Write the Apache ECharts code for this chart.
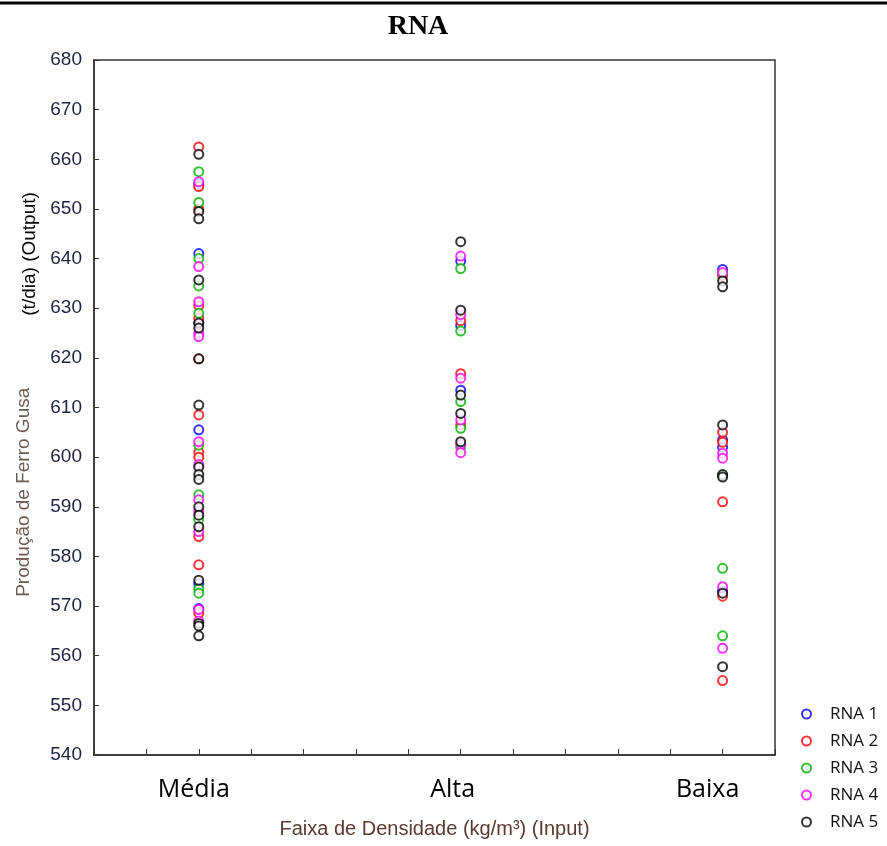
<!DOCTYPE html>
<html>
<head>
    <meta charset="utf-8">
    <title>RNA</title>
    <script src="https://cdn.jsdelivr.net/npm/echarts@6/dist/echarts.min.js"></script>
</head>
<style type="text/css">
    * {
        margin: 0;
        padding: 0;
    }
    body {
        background: #fff;
    }
</style>
<body>
    <div id="chart" style="width: 887px; height: 846px;"></div>
    <script type="text/javascript">
        // faixas de densidade (eixo x: 1, 2, 3)
        var categories = ['Média', 'Alta', 'Baixa'];
        var seriesNames = ['RNA 1', 'RNA 2', 'RNA 3', 'RNA 4', 'RNA 5'];
        var colors = ['#0000ff', '#ff0000', '#00b000', '#ff00ff', '#000000'];

        // valores: [Média, Alta, Baixa]
        var rna1 = [
            [641, 655, 627, 605.5, 574.5, 569.5],
            [639.5, 626.5, 613.5],
            [637.8, 603.5, 602, 573]
        ];
        var rna2 = [
            [662.5, 654.5, 650, 630.5, 628, 619.8, 608.5, 601, 600, 584, 578.3, 568.6],
            [627.5, 616.8, 606.5],
            [636.5, 605, 603, 591, 572, 555]
        ];
        var rna3 = [
            [657.5, 651.3, 640, 634.5, 629, 602.4, 592.4, 587.5, 573.5, 572.6],
            [638, 625.4, 611.2, 605.8, 602],
            [637, 596.3, 577.6, 564]
        ];
        var rna4 = [
            [655.5, 638.4, 631.3, 625, 624.3, 603.1, 598.5, 591.4, 589, 585, 569.3, 567],
            [640.5, 628.7, 615.9, 607.5, 602.6, 600.9],
            [637.2, 600.8, 599.8, 573.9, 561.5]
        ];
        var rna5 = [
            [661, 649.5, 648, 635.7, 627, 626, 619.8, 610.5, 598, 596.5, 595.5, 590, 588.3, 586, 575.2, 566.5, 566, 564],
            [643.4, 629.6, 612.5, 608.8, 603.1],
            [635.5, 634.3, 606.5, 596.5, 596, 572.6, 557.8]
        ];
        var allData = [rna1, rna2, rna3, rna4, rna5];

        function toPoints(d) {
            var pts = [];
            for (var c = 0; c < d.length; c++) {
                for (var i = 0; i < d[c].length; i++) {
                    pts.push([c + 1, d[c][i]]);
                }
            }
            return pts;
        }

        var series = [];
        for (var s = 0; s < allData.length; s++) {
            series.push({
                name: seriesNames[s],
                type: 'scatter',
                symbol: 'emptyCircle',
                symbolSize: 9,
                itemStyle: {
                    color: colors[s],
                    borderColor: colors[s],
                    borderWidth: 1.8
                },
                data: toPoints(allData[s])
            });
        }

        // rotulos do eixo x ficam um pouco deslocados para a esquerda no original
        var catRich = {
            c0: { padding: [0, 10, 0, 0] },
            c1: { padding: [0, 16, 0, 0] },
            c2: { padding: [0, 30, 0, 0] }
        };

        var myChart = echarts.init(document.getElementById('chart'));
        var option = {
            backgroundColor: '#ffffff',
            animation: false,
            title: {
                text: 'RNA',
                left: 413,
                textAlign: 'center',
                top: 8,
                textStyle: {
                    fontFamily: 'Liberation Serif',
                    fontWeight: 'bold',
                    fontSize: 28,
                    color: '#000'
                }
            },
            graphic: [{
                type: 'line',
                shape: { x1: 0, y1: 3, x2: 887, y2: 3 },
                style: { stroke: '#000', lineWidth: 3 }
            }],
            legend: {
                orient: 'vertical',
                left: 796,
                top: 699,
                itemWidth: 9,
                itemHeight: 9,
                itemGap: 7,
                data: seriesNames,
                textStyle: {
                    fontFamily: 'Open Sans',
                    fontSize: 17,
                    lineHeight: 20,
                    color: '#111',
                    padding: [0, 0, 0, 14]
                }
            },
            grid: {
                left: 94,
                right: 112,
                top: 60,
                bottom: 91,
                show: true,
                borderColor: '#333',
                borderWidth: 1.5
            },
            xAxis: {
                type: 'value',
                min: 0.6,
                max: 3.2,
                interval: 0.2,
                name: 'Faixa de Densidade (kg/m³) (Input)',
                nameLocation: 'middle',
                nameGap: 64,
                nameTextStyle: {
                    fontFamily: 'Liberation Sans',
                    fontSize: 20,
                    color: '#5a3a30'
                },
                axisLine: { lineStyle: { color: '#333', width: 1.5 } },
                axisTick: { inside: true, length: 6, lineStyle: { color: '#333' } },
                splitLine: { show: false },
                axisLabel: {
                    margin: 22,
                    fontFamily: 'Open Sans',
                    fontSize: 25,
                    color: '#000',
                    rich: {
                        c0: { fontFamily: 'Open Sans', fontSize: 25, color: '#000', padding: catRich.c0.padding },
                        c1: { fontFamily: 'Open Sans', fontSize: 25, color: '#000', padding: catRich.c1.padding },
                        c2: { fontFamily: 'Open Sans', fontSize: 25, color: '#000', padding: catRich.c2.padding }
                    },
                    formatter: function (v) {
                        var r = Math.round(v);
                        if (Math.abs(v - r) < 1e-6 && r >= 1 && r <= categories.length) {
                            return '{c' + (r - 1) + '|' + categories[r - 1] + '}';
                        }
                        return '';
                    }
                }
            },
            yAxis: {
                type: 'value',
                min: 540,
                max: 680,
                interval: 10,
                name: '{a|Produção de Ferro Gusa}{b|(t/dia) (Output)}',
                nameLocation: 'middle',
                nameGap: 55,
                nameTextStyle: {
                    rich: {
                        a: {
                            fontFamily: 'Liberation Sans',
                            fontSize: 19,
                            lineHeight: 30,
                            color: '#6b5a50'
                        },
                        b: {
                            fontFamily: 'Liberation Sans',
                            fontSize: 19,
                            lineHeight: 20,
                            verticalAlign: 'bottom',
                            color: '#000',
                            padding: [0, 0, 0, 72]
                        }
                    },
                    padding: [0, 0, 0, 26]
                },
                axisLine: { lineStyle: { color: '#333', width: 1.5 } },
                axisTick: { inside: true, length: 5, lineStyle: { color: '#333' } },
                splitLine: { show: false },
                axisLabel: {
                    margin: 12,
                    fontFamily: 'Liberation Sans',
                    fontSize: 19,
                    color: '#1c2340'
                }
            },
            series: series
        };
        myChart.setOption(option);
    </script>
</body>
</html>
